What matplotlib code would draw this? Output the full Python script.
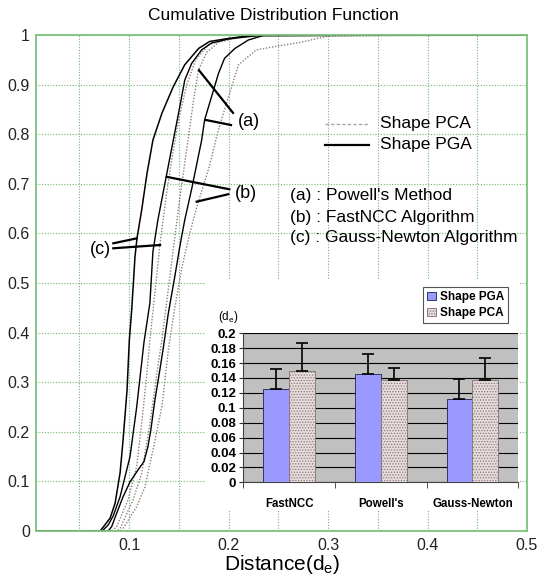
import matplotlib
matplotlib.use("Agg")
import matplotlib.pyplot as plt
from matplotlib.patches import Rectangle, Patch

plt.rcParams['font.family'] = ['Liberation Sans', 'DejaVu Sans']
plt.rcParams['mathtext.fontset'] = 'custom'
plt.rcParams['mathtext.rm'] = 'Liberation Sans'
plt.rcParams['hatch.linewidth'] = 0.6

# ---- CDF curves ----
pga_gn_x = [0.0, 0.071, 0.081, 0.086, 0.091, 0.094, 0.098, 0.1003, 0.1027, 0.106, 0.108, 0.1127, 0.118, 0.124, 0.133, 0.1445, 0.156, 0.17, 0.181, 0.2, 0.223, 0.5]
pga_gn_y = [0.0, 0.0, 0.026, 0.056, 0.117, 0.183, 0.284, 0.385, 0.446, 0.553, 0.59, 0.647, 0.72, 0.788, 0.842, 0.896, 0.94, 0.973, 0.987, 0.993, 0.999, 1.0]

pga_ncc_x = [0.0, 0.073, 0.079, 0.084, 0.091, 0.101, 0.1077, 0.115, 0.121, 0.124, 0.129, 0.136, 0.1445, 0.151, 0.156, 0.163, 0.173, 0.183, 0.2, 0.23, 0.5]
pga_ncc_y = [0.0, 0.0, 0.012, 0.03, 0.069, 0.15, 0.25, 0.38, 0.46, 0.563, 0.627, 0.70, 0.788, 0.855, 0.909, 0.943, 0.97, 0.984, 0.992, 0.999, 1.0]

pga_pow_x = [0.0, 0.079, 0.0826, 0.0876, 0.094, 0.101, 0.109, 0.115, 0.119, 0.122, 0.126, 0.131, 0.1345, 0.1395, 0.146, 0.151, 0.156, 0.163, 0.173, 0.176, 0.183, 0.19, 0.196, 0.2065, 0.22, 0.235, 0.5]
pga_pow_y = [0.0, 0.0, 0.009, 0.036, 0.069, 0.099, 0.123, 0.14, 0.17, 0.205, 0.264, 0.325, 0.37, 0.439, 0.513, 0.573, 0.627, 0.69, 0.788, 0.829, 0.876, 0.923, 0.953, 0.973, 0.99, 0.999, 1.0]

pca_gn_x = [0.0, 0.083, 0.0876, 0.099, 0.1077, 0.1127, 0.118, 0.121, 0.126, 0.131, 0.137, 0.143, 0.15, 0.158, 0.167, 0.18, 0.2, 0.22, 0.5]
pca_gn_y = [0.0, 0.0, 0.009, 0.0625, 0.13, 0.217, 0.318, 0.385, 0.48, 0.577, 0.67, 0.75, 0.83, 0.9, 0.95, 0.98, 0.993, 0.999, 1.0]

pca_pow_x = [0.0, 0.088, 0.091, 0.104, 0.1127, 0.121, 0.128, 0.133, 0.139, 0.145, 0.151, 0.158, 0.165, 0.17, 0.178, 0.19, 0.21, 0.24, 0.5]
pca_pow_y = [0.0, 0.0, 0.005, 0.0625, 0.116, 0.217, 0.318, 0.385, 0.48, 0.577, 0.67, 0.77, 0.87, 0.93, 0.965, 0.985, 0.995, 1.0, 1.0]

pca_ncc_x = [0.0, 0.092, 0.094, 0.1077, 0.116, 0.124, 0.133, 0.1395, 0.146, 0.153, 0.161, 0.17, 0.18, 0.19, 0.2, 0.21, 0.228, 0.25, 0.272, 0.3, 0.5]
pca_ncc_y = [0.0, 0.0, 0.005, 0.049, 0.089, 0.163, 0.25, 0.365, 0.45, 0.53, 0.6, 0.666, 0.73, 0.81, 0.875, 0.94, 0.97, 0.978, 0.985, 0.998, 1.0]

x_ticks = [0.1, 0.2, 0.3, 0.4, 0.5]
x_tick_labels = ['0.1', '0.2', '0.3', '0.4', '0.5']
y_ticks = [0, 0.1, 0.2, 0.3, 0.4, 0.5, 0.6, 0.7, 0.8, 0.9, 1.0]
y_tick_labels = ['0', '0.1', '0.2', '0.3', '0.4', '0.5', '0.6', '0.7', '0.8', '0.9', '1']

# ---- inset bar chart data ----
methods = ['FastNCC', "Powell's", 'Gauss-Newton']
pga_mean = [0.125, 0.145, 0.112]
pga_err = [0.027, 0.027, 0.026]
pca_mean = [0.150, 0.137, 0.137]
pca_err = [0.037, 0.0165, 0.030]
bar_y_ticks = [0, 0.02, 0.04, 0.06, 0.08, 0.1, 0.12, 0.14, 0.16, 0.18, 0.2]
bar_y_labels = ['0', '0.02', '0.04', '0.06', '0.08', '0.1', '0.12', '0.14', '0.16', '0.18', '0.2']

W, H = 539, 578
fig = plt.figure(figsize=(W / 100, H / 100), dpi=100)
fig.patch.set_facecolor('white')

def fx(px):
    return px / W

def fy(py):
    return 1 - py / H

green = '#7cc47c'
ax = fig.add_axes([fx(35.5), fy(531), fx(527) - fx(35.5), fy(35) - fy(531)])
ax.set_zorder(0)
ax.set_xlim(0.006, 0.5)
ax.set_ylim(0, 1)
for s in ax.spines.values():
    s.set_color(green)
    s.set_linewidth(1.3)
ax.set_xticks(x_ticks)
ax.set_xticklabels(x_tick_labels)
ax.set_xticks([0.05, 0.15, 0.25, 0.35, 0.45], minor=True)
ax.set_yticks(y_ticks)
ax.set_yticklabels(y_tick_labels)
ax.tick_params(axis='both', which='both', length=0, labelsize=11.5, colors='#222222')
ax.tick_params(axis='x', pad=5)
ax.tick_params(axis='y', pad=4)
ax.grid(True, which='both', color='#6fb86f', linestyle=(0, (1, 1.5)), linewidth=0.8)
ax.set_axisbelow(True)

pca_color = '#8f7f7f'
ax.plot(pca_gn_x, pca_gn_y, color=pca_color, linestyle=(0, (1, 1.2)), linewidth=1.0)
ax.plot(pca_pow_x, pca_pow_y, color=pca_color, linestyle=(0, (1, 1.2)), linewidth=1.0)
ax.plot(pca_ncc_x, pca_ncc_y, color=pca_color, linestyle=(0, (1, 1.2)), linewidth=1.0)
ax.plot(pga_gn_x, pga_gn_y, color='black', linewidth=1.1)
ax.plot(pga_ncc_x, pga_ncc_y, color='black', linewidth=1.0)
ax.plot(pga_pow_x, pga_pow_y, color='black', linewidth=1.0)

# annotation pointers
ann_lw = 1.6
ax.plot([0.2045, 0.1703], [0.843, 0.929], color='black', lw=ann_lw)
ax.plot([0.2025, 0.1774], [0.8185, 0.8286], color='black', lw=ann_lw)
ax.text(0.2206, 0.825, '(a)', fontsize=13, ha='center', va='center')
ax.plot([0.2008, 0.1379], [0.689, 0.714], color='black', lw=ann_lw)
ax.plot([0.1998, 0.168], [0.679, 0.664], color='black', lw=ann_lw)
ax.text(0.2174, 0.681, '(b)', fontsize=13, ha='center', va='center')
ax.plot([0.0842, 0.1077], [0.580, 0.590], color='black', lw=ann_lw)
ax.plot([0.0842, 0.1312], [0.570, 0.5766], color='black', lw=ann_lw)
ax.text(0.0709, 0.5685, '(c)', fontsize=13, ha='center', va='center')

# manual legend
ax.plot([0.297, 0.341], [0.8206, 0.8206], color='#a8a8a8', linestyle=(0, (2.5, 1.5)), lw=1.0)
ax.text(0.352, 0.8206, 'Shape PCA', fontsize=12.5, va='center', ha='left')
ax.plot([0.297, 0.341], [0.779, 0.779], color='black', lw=1.6)
ax.text(0.352, 0.779, 'Shape PGA', fontsize=12.5, va='center', ha='left')

ax.text(0.2618, 0.677, "(a) : Powell's Method", fontsize=12.5, va='center', ha='left')
ax.text(0.2618, 0.633, "(b) : FastNCC Algorithm", fontsize=12.5, va='center', ha='left')
ax.text(0.2618, 0.591, "(c) : Gauss-Newton Algorithm", fontsize=12.5, va='center', ha='left')

fig.text(fx(273), fy(16), 'Cumulative Distribution Function', fontsize=12.5, ha='center', va='center')
fig.text(fx(282), fy(564), r'Distance(d$\mathregular{_e}$)', fontsize=15, ha='center', va='center')

# white panel behind inset
fig.patches.append(Rectangle((fx(205), fy(510)), fx(519) - fx(205), fy(280) - fy(510),
                             transform=fig.transFigure, facecolor='white', edgecolor='none', zorder=1))

# ---- inset bar chart ----
ax2 = fig.add_axes([fx(243.3), fy(482.3), fx(518.3) - fx(243.3), fy(333.3) - fy(482.3)])
ax2.set_zorder(2)
ax2.set_facecolor('#c0c0c0')
ax2.set_xlim(-0.5, 2.5)
ax2.set_ylim(0, 0.2)
bw = 0.283
xs = list(range(len(methods)))
ax2.bar([x - bw / 2 for x in xs], pga_mean, width=bw, color='#9999ff', edgecolor='#333366', linewidth=0.7, zorder=3)
ax2.bar([x + bw / 2 for x in xs], pca_mean, width=bw, color='#e6dcdc', edgecolor='#8a7a7a', hatch='......', linewidth=0.7, zorder=3)
ax2.errorbar([x - bw / 2 for x in xs], pga_mean, yerr=[[0] * 3, pga_err], fmt='none', ecolor='black',
             elinewidth=1.2, capsize=4, capthick=1.2, zorder=4)
ax2.errorbar([x + bw / 2 for x in xs], pca_mean, yerr=[[0] * 3, pca_err], fmt='none', ecolor='black',
             elinewidth=1.2, capsize=4, capthick=1.2, zorder=4)
ax2.set_yticks(bar_y_ticks)
ax2.set_yticklabels(bar_y_labels, fontweight='bold')
ax2.set_xticks(xs)
ax2.set_xticklabels(methods, fontweight='bold')
ax2.set_xticks([-0.5, 0.5, 1.5, 2.5], minor=True)
ax2.tick_params(axis='x', which='major', length=0, labelsize=8.3, pad=11)
ax2.tick_params(axis='x', which='minor', length=4, color='#333333')
ax2.tick_params(axis='y', length=3, labelsize=9.5, pad=2, color='#333333')
ax2.yaxis.grid(True, color='black', linewidth=0.8)
ax2.set_axisbelow(True)
ax2.spines['top'].set_visible(False)
ax2.spines['right'].set_visible(False)
ax2.spines['left'].set_color('#444444')
ax2.spines['bottom'].set_color('#444444')

fig.text(fx(228), fy(317), r'(d$\mathregular{_e}$)', fontsize=8.5, ha='center', va='center', zorder=5)

handles = [Patch(facecolor='#9999ff', edgecolor='#333366', linewidth=0.7),
           Patch(facecolor='#e6dcdc', edgecolor='#8a7a7a', hatch='......', linewidth=0.7)]
leg = fig.legend(handles, ['Shape PGA', 'Shape PCA'], loc='upper left',
                 bbox_to_anchor=(fx(423), fy(287)), prop={'weight': 'bold', 'size': 8.5},
                 frameon=True, fancybox=False, edgecolor='#555555', framealpha=1,
                 handlelength=0.75, handleheight=0.75, borderpad=0.35, labelspacing=0.35,
                 handletextpad=0.3, borderaxespad=0)
leg.get_frame().set_linewidth(0.8)
leg.set_zorder(6)

fig.savefig('out.png', dpi=100)
